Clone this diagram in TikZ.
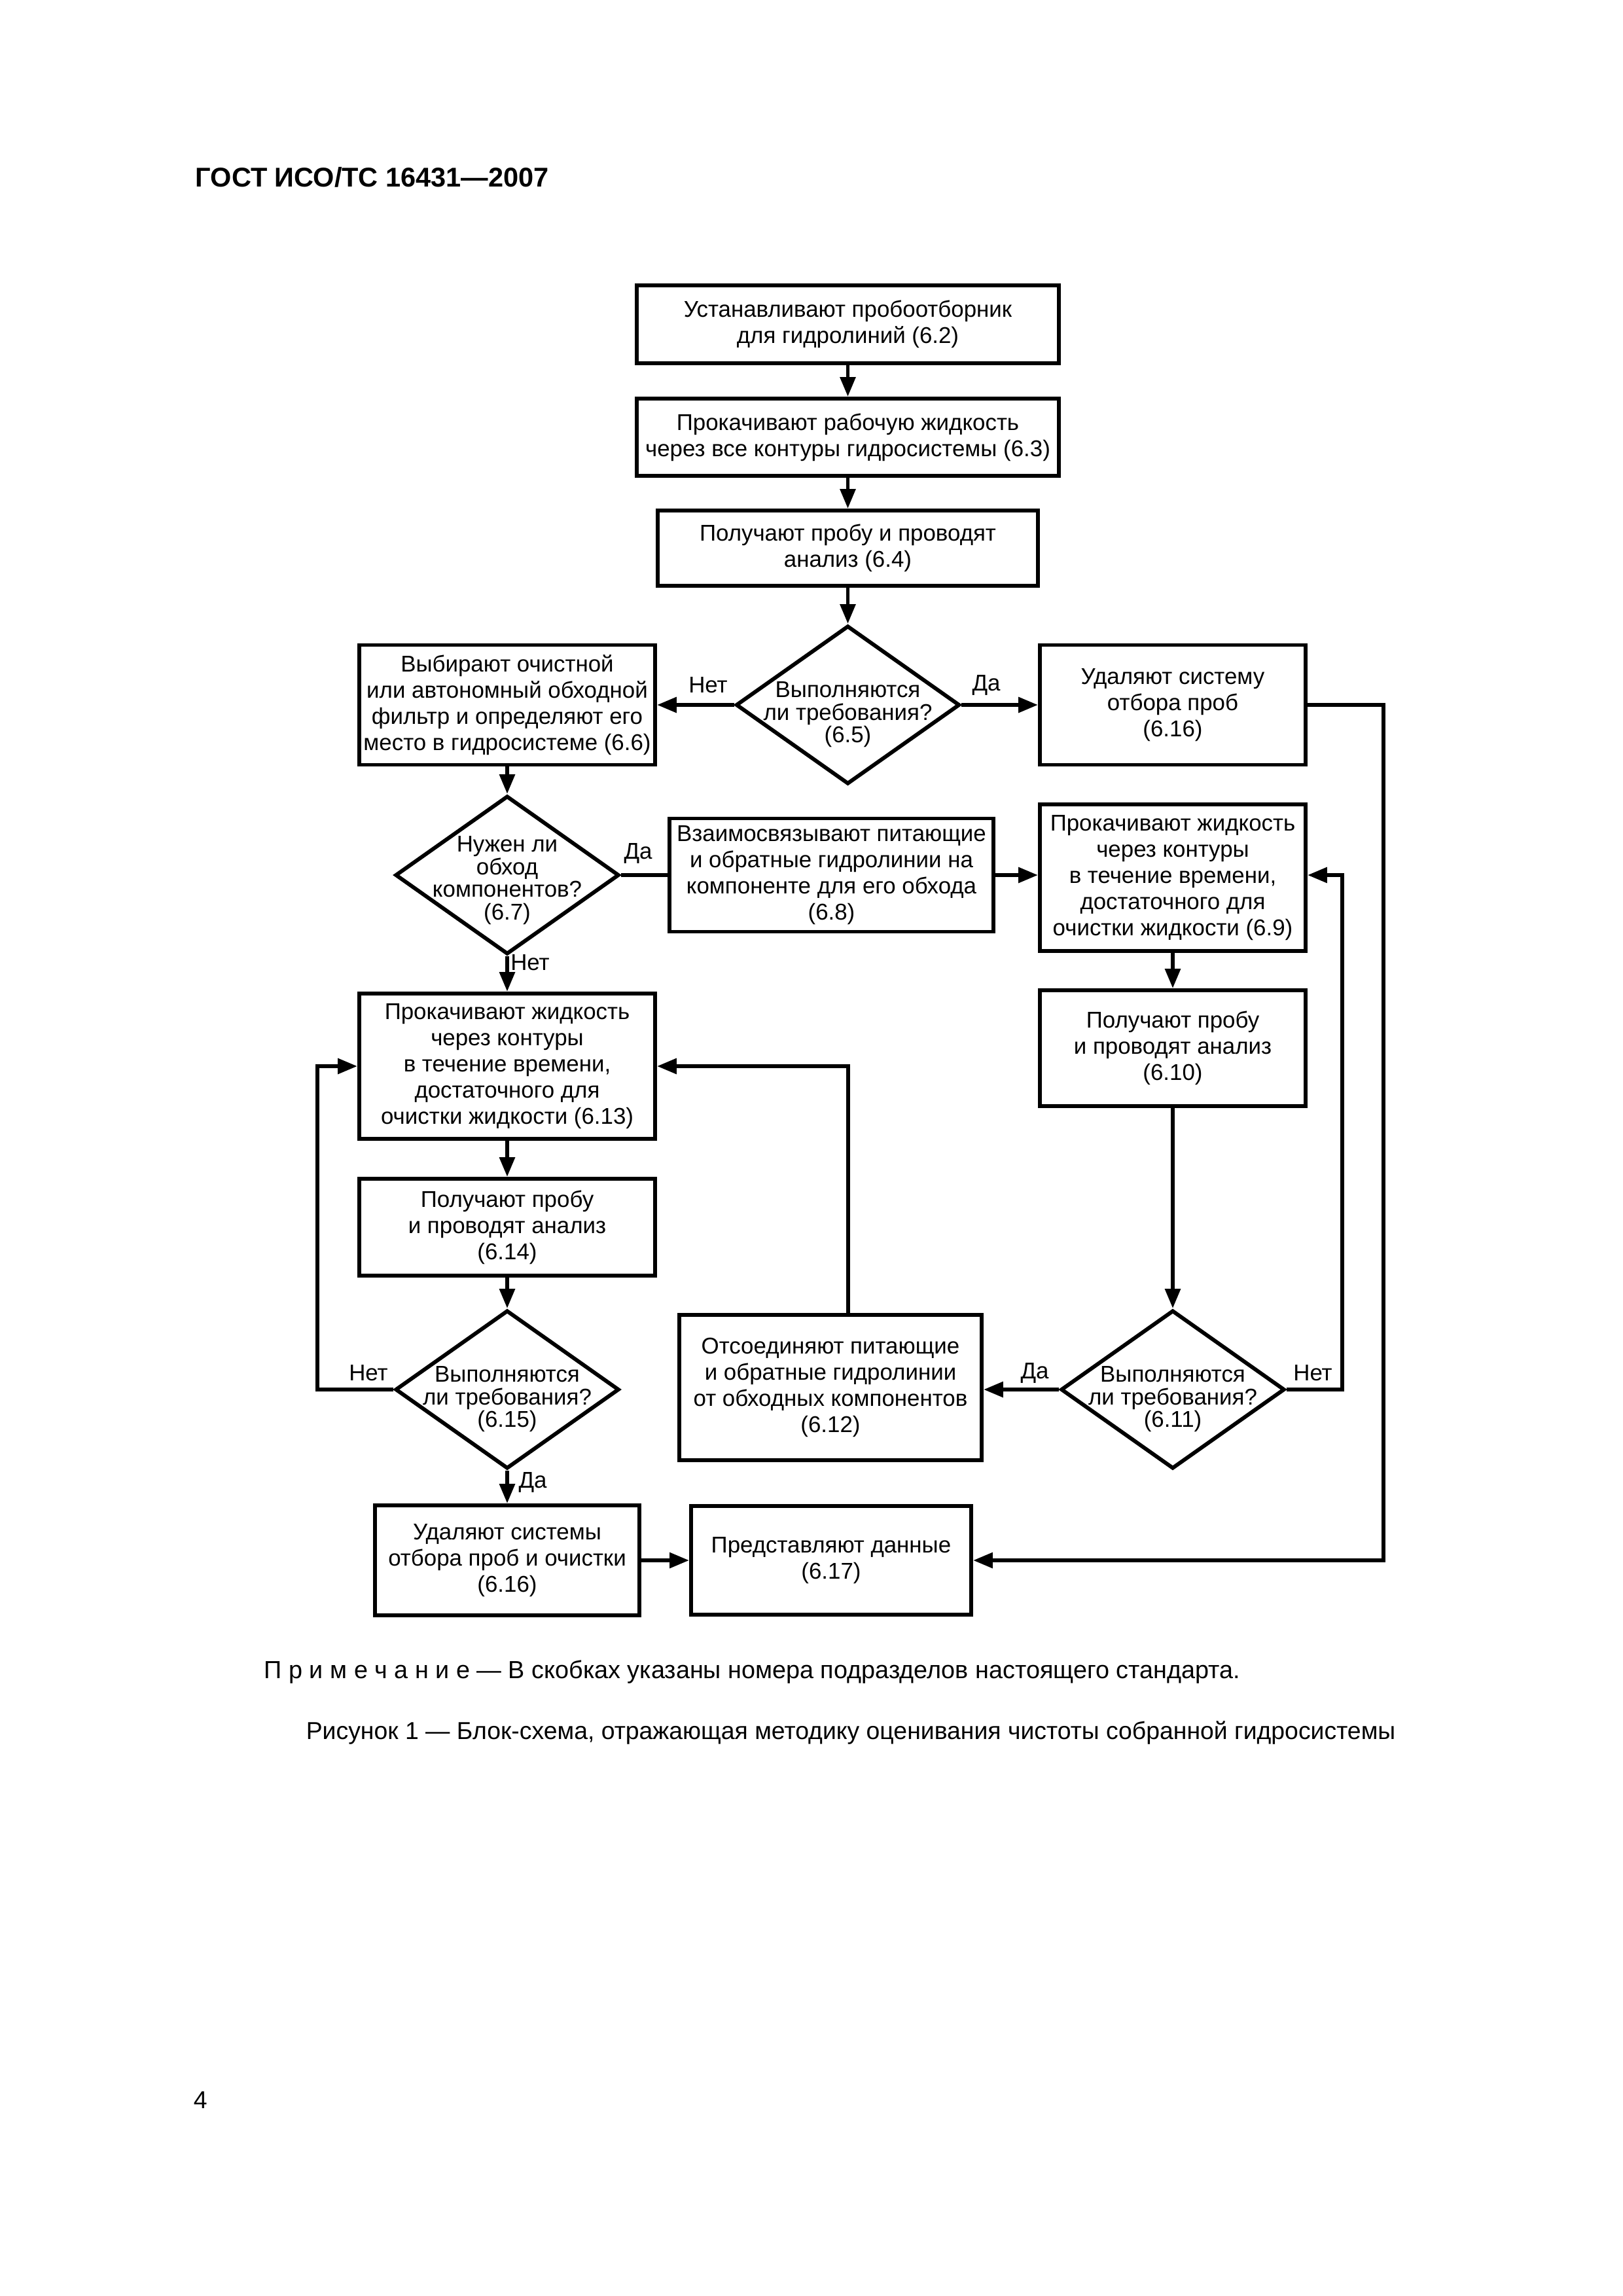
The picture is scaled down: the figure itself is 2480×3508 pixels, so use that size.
\documentclass[tikz,border=0pt]{standalone}
\usepackage{fontspec}
\setmainfont{Liberation Sans}
\usetikzlibrary{arrows.meta,shapes.geometric}
\def\PX{0.084677mm}
\begin{document}
\begin{tikzpicture}[x=0.084677mm,y=-0.084677mm,
  txt/.style={font=\fontsize{8.4}{9.6}\selectfont},
  box/.style={txt, draw, line width=0.5mm, inner sep=0pt, align=center},
  dia/.style={draw, diamond, line width=0.5mm, inner sep=0pt, minimum width=342*\PX, minimum height=242*\PX},
  dtext/.style={font=\fontsize{8.4}{8.3}\selectfont, align=center, inner sep=0pt, yshift=-15*\PX},
  lbl/.style={txt, inner sep=0pt},
  conn/.style={line width=0.5mm},
  arr/.style={conn, -{Triangle[length=2.54mm, width=1.95mm]}},
]
\useasboundingbox (0,0) rectangle (2480,3508);

\node[anchor=base west, inner sep=0pt, font=\bfseries\fontsize{10}{12}\selectfont] (hdr) at (298,285) {ГОСТ ИСО/ТС 16431—2007};

% column 1 (centre)
\node[box, minimum width=645*\PX, minimum height=119*\PX] (b2) at (1295.5,495.5) {Устанавливают пробоотборник\\для гидролиний (6.2)};
\node[box, minimum width=645*\PX, minimum height=118*\PX] (b3) at (1295.5,668) {Прокачивают рабочую жидкость\\через все контуры гидросистемы (6.3)};
\node[box, minimum width=581*\PX, minimum height=115*\PX] (b4) at (1295.5,837.5) {Получают пробу и проводят\\анализ (6.4)};
\node[dia] (d5) at (1295.5,1077) {};
\node[dtext] (t5) at (d5) {Выполняются\\ли требования?\\(6.5)};

\node[box, minimum width=452*\PX, minimum height=183*\PX] (b6) at (775,1077) {Выбирают очистной\\или автономный обходной\\фильтр и определяют его\\место в гидросистеме (6.6)};
\node[box, minimum width=406*\PX, minimum height=183*\PX] (b16) at (1792,1077) {Удаляют систему\\отбора проб\\(6.16)};

\node[dia] (d7) at (775,1337) {};
\node[dtext, yshift=7*\PX] (t7) at (d7) {Нужен ли\\обход\\компонентов?\\(6.7)};
\node[box, minimum width=495*\PX, minimum height=173*\PX] (b8) at (1270.5,1337) {Взаимосвязывают питающие\\и обратные гидролинии на\\компоненте для его обхода\\(6.8)};
\node[box, minimum width=406*\PX, minimum height=224*\PX] (b9) at (1792,1341) {Прокачивают жидкость\\через контуры\\в течение времени,\\достаточного для\\очистки жидкости (6.9)};

\node[box, minimum width=452*\PX, minimum height=222*\PX] (b13) at (775,1629) {Прокачивают жидкость\\через контуры\\в течение времени,\\достаточного для\\очистки жидкости (6.13)};
\node[box, minimum width=406*\PX, minimum height=177*\PX] (b10) at (1792,1601.5) {Получают пробу\\и проводят анализ\\(6.10)};
\node[box, minimum width=452*\PX, minimum height=148*\PX] (b14) at (775,1875) {Получают пробу\\и проводят анализ\\(6.14)};

\node[dia] (d15) at (775,2123) {};
\node[dtext] (t15) at (d15) {Выполняются\\ли требования?\\(6.15)};
\node[box, minimum width=462*\PX, minimum height=222*\PX] (b12) at (1269,2120) {Отсоединяют питающие\\и обратные гидролинии\\от обходных компонентов\\(6.12)};
\node[dia] (d11) at (1792,2123) {};
\node[dtext] (t11) at (d11) {Выполняются\\ли требования?\\(6.11)};

\node[box, minimum width=404*\PX, minimum height=168*\PX] (b16b) at (775,2384) {Удаляют системы\\отбора проб и очистки\\(6.16)};
\node[box, minimum width=428*\PX, minimum height=166*\PX] (b17) at (1270,2384) {Представляют данные\\(6.17)};

% helper coordinates
\coordinate (r1) at (2114,1077);
\coordinate (r2) at (2114,2384);
\coordinate (l1) at (2051,2123);
\coordinate (l2) at (2051,1337);
\coordinate (m1) at (485,2123);
\coordinate (m2) at (485,1629);
\coordinate (k1) at (1296,1629);

% connectors
\draw[arr] (b2) -- (b3);
\draw[arr] (b3) -- (b4);
\draw[arr] (b4) -- (d5);
\draw[arr] (d5.west) -- (b6.east);
\draw[arr] (d5.east) -- (b16.west);
\draw[arr] (b16.east) -- (r1) -- (r2) -- (b17.east);
\draw[arr] (b6) -- (d7);
\draw[conn] (d7.east) -- (b8.west);
\draw[arr] (b8.east) -- (b9.west |- b8.east);
\draw[arr] (d7) -- (b13);
\draw[arr] (b13) -- (b14);
\draw[arr] (b14) -- (d15);
\draw[arr] (d15) -- (b16b);
\draw[arr] (d15.west) -- (m1) -- (m2) -- (b13.west);
\draw[arr] (b9) -- (b10);
\draw[arr] (b10) -- (d11);
\draw[arr] (d11.west) -- (b12.east |- d11.west);
\draw[arr] (d11.east) -- (l1) -- (l2) -- (b9.east |- l2);
\draw[arr] (b12.north -| k1) -- (k1) -- (b13.east |- k1);
\draw[arr] (b16b) -- (b17);

% labels
\node[lbl] (n5) at (1082,1047) {Нет};
\node[lbl] (y5) at (1507,1047) {Да};
\node[lbl] (y7) at (975,1304) {Да};
\node[lbl] (n7) at (810,1471) {Нет};
\node[lbl] (n15) at (563,2098) {Нет};
\node[lbl] (y15) at (814,2265) {Да};
\node[lbl] (y11) at (1581,2098) {Да};
\node[lbl] (n11) at (2006,2098) {Нет};

% texts below
\node[anchor=base west, inner sep=0pt, font=\fontsize{9.1}{11}\selectfont] (note) at (403,2564) {П р и м е ч а н и е — В скобках указаны номера подразделов настоящего стандарта.};
\node[anchor=base, inner sep=0pt, font=\fontsize{9}{11}\selectfont] (cap) at (1300,2657) {Рисунок 1 — Блок-схема, отражающая методику оценивания чистоты собранной гидросистемы};
\node[anchor=base west, inner sep=0pt, font=\fontsize{9}{11}\selectfont] (pg) at (295,3221) {4};
\end{tikzpicture}
\end{document}
